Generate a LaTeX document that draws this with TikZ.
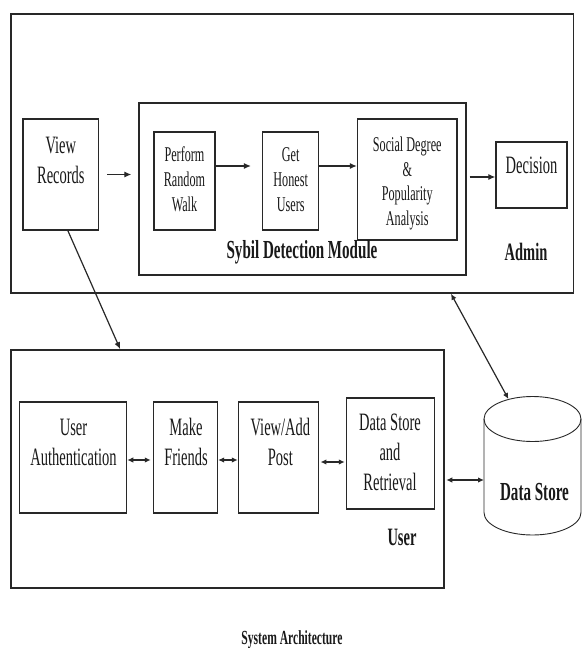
\documentclass[tikz,border=0pt]{standalone}
\usepackage{fontspec}
\setmainfont{Liberation Serif}
\usepackage{graphicx}
\usetikzlibrary{arrows.meta,calc}
\newcommand\sqz[1]{\scalebox{0.58}[1]{#1}}
\newcommand\mlines[1]{\sqz{\begin{tabular}{@{}c@{}}#1\end{tabular}}}
\definecolor{ln}{RGB}{40,40,40}
\begin{document}
\begin{tikzpicture}[x=1pt,y=-1pt,
  outer/.style={draw=ln,line width=1.6pt,inner sep=0pt},
  box/.style={draw=ln,line width=1.3pt,inner sep=0pt},
  txtbig/.style={font=\fontsize{25}{30}\selectfont,inner sep=0pt,text=black!90},
  txtsmall/.style={font=\fontsize{21}{25}\selectfont,inner sep=0pt,text=black!90},
  txtsd/.style={font=\fontsize{21}{24.5}\selectfont,inner sep=0pt,text=black!90},
  lbl/.style={font=\bfseries\fontsize{26}{28}\selectfont,inner sep=0pt,text=black!90},
  caption/.style={font=\bfseries\fontsize{20}{22}\selectfont,inner sep=0pt,text=black!90},
  arr/.style={draw=ln,line width=1.2pt,-{Latex[length=7pt,width=6pt]}},
  darr/.style={draw=ln,line width=1.2pt,{Latex[length=6pt,width=5.5pt]}-{Latex[length=6pt,width=5.5pt]}},
  thin/.style={draw=ln,line width=0.9pt}
]
\useasboundingbox (0,0) rectangle (584,648);
\fill[white] (0,0) rectangle (584,648);

% Admin part
\node[outer,minimum width=562.6pt,minimum height=279pt] (admin) at (292.3,153.5) {};
\node[box,minimum width=75.7pt,minimum height=111pt] (vr) at (60.85,174.5) {};
\node[box,minimum width=327pt,minimum height=172pt] (syb) at (302.5,189) {};
\node[box,minimum width=61pt,minimum height=98pt] (rw) at (184.5,181) {};
\node[box,minimum width=56.2pt,minimum height=98pt] (gh) at (290.7,181) {};
\node[box,minimum width=99.5pt,minimum height=121pt] (sd) at (407.25,179.5) {};
\node[box,minimum width=71pt,minimum height=66pt] (dec) at (531.5,175) {};

\node[txtbig] (vrt) at (60.85,162) {\mlines{View\\Records}};
\node[txtsmall] (rwt) at (184.5,181.5) {\mlines{Perform\\Random\\Walk}};
\node[txtsmall] (ght) at (290.7,181) {\mlines{Get\\Honest\\Users}};
\node[txtsd] (sdt) at (407.25,183.8) {\mlines{Social Degree\\\&\\Popularity\\Analysis}};
\node[font=\fontsize{25}{28}\selectfont,inner sep=0pt,text=black!90] (dect) at (531.5,167.4) {\mlines{Decision}};
\node[lbl] (sybt) at (302,252.4) {\mlines{Sybil Detection Module}};
\node[font=\bfseries\fontsize{25}{28}\selectfont,inner sep=0pt,text=black!90] (admt) at (526,254.4) {\mlines{Admin}};

\draw[arr,shorten <=8pt,shorten >=7pt] (vr.east) -- (vr.east -| syb.west);
\draw[arr,shorten >=11pt] ($(rw.east)+(0,-15)$) -- ($(gh.west)+(0,-15)$);
\draw[arr] ($(gh.east)+(0,-15)$) -- ($(sd.west)+(0,-13.5)$);
\draw[arr] ($(sd.east)+(12,-2.5)$) -- ($(dec.west)+(0,2)$);

% User part
\node[outer,minimum width=433pt,minimum height=238pt] (user) at (227.5,469) {};
\node[box,minimum width=107.2pt,minimum height=111pt] (ua) at (73,457.5) {};
\node[box,minimum width=64.1pt,minimum height=111pt] (mf) at (185.45,457.5) {};
\node[box,minimum width=80.4pt,minimum height=111pt] (vp) at (278.6,457.5) {};
\node[box,minimum width=88.2pt,minimum height=111pt] (dsr) at (390.5,453.5) {};

\node[txtbig] (uat) at (73.5,444) {\mlines{User\\Authentication}};
\node[txtbig] (mft) at (186,444) {\mlines{Make\\Friends}};
\node[txtbig] (vpt) at (280.4,444) {\mlines{View/Add\\Post}};
\node[txtbig] (dsrt) at (390,454) {\mlines{Data Store\\and\\Retrieval}};
\node[font=\bfseries\fontsize{25}{30}\selectfont,inner sep=0pt,text=black!90] (usert) at (402,539) {\mlines{User}};

\draw[darr,shorten >=2pt] ($(ua.east)+(0,2.5)$) -- ($(mf.west)+(0,2.5)$);
\draw[darr] ($(mf.east)+(0,2.5)$) -- ($(vp.west)+(0,2.5)$);
\draw[darr,shorten <=1pt,shorten >=1pt] ($(vp.east)+(0,4.5)$) -- ($(dsr.west)+(0,8.5)$);

% Data store cylinder
\draw[thin,fill=white] (484,419) -- (484,512.5) arc[start angle=180,end angle=360,x radius=48.5pt,y radius=22.5pt] -- (581,419);
\draw[thin] (532.5,419) ellipse[x radius=48.5pt,y radius=22.5pt];
\node[lbl] (ds) at (534.5,494.7) {\mlines{Data Store}};
\coordinate (dsl) at (484,480);
\coordinate (dstop) at (508.4,399);

\draw[darr] ($(dsr.east)+(11,26.5)$) -- (dsl);
\draw[darr] ($(admin.south west)+(440.8,0)$) -- (dstop);
\draw[arr] ($(vr.south)+(7,0)$) -- ($(user.north west)+(110,0)$);

% caption
\node[caption] (sat) at (292,639.6) {\mlines{System Architecture}};
\end{tikzpicture}
\end{document}
